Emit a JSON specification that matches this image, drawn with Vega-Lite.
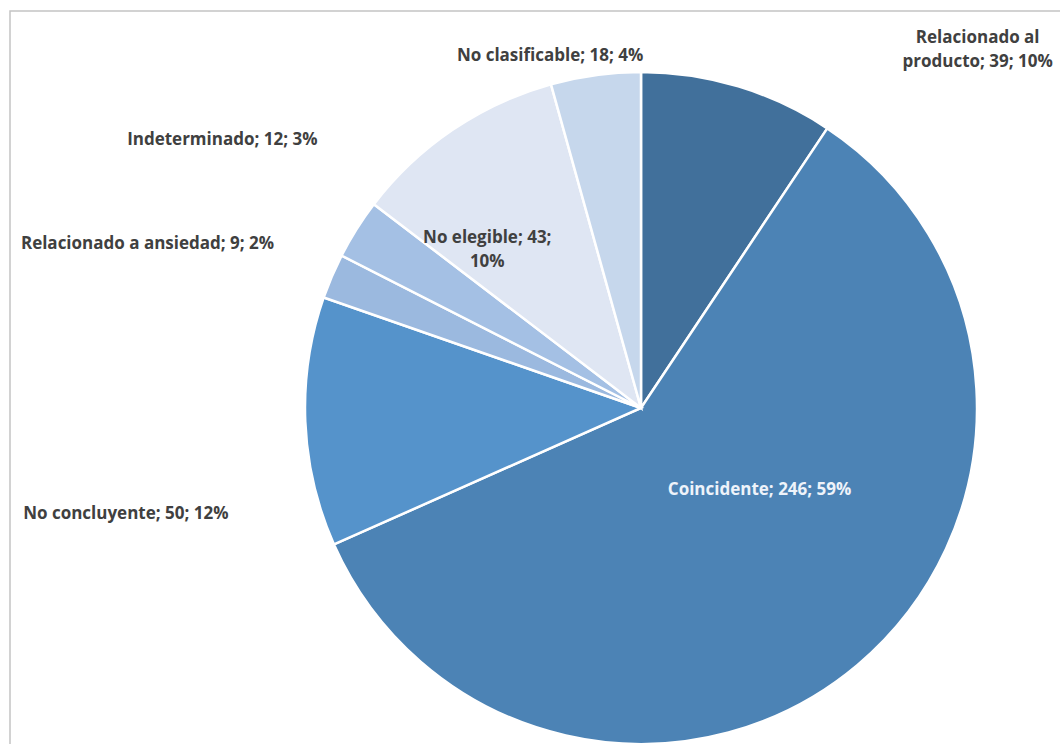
{
  "$schema": "https://vega.github.io/schema/vega-lite/v6.json",
  "description": "Pie chart of causality categories with labels.",
  "background": "white",
  "width": 1262,
  "height": 794,
  "autosize": {"type": "none"},
  "padding": {"left": 10, "top": 11, "right": -212, "bottom": -61},
  "config": {
    "view": {"stroke": "#c4c4c4", "strokeWidth": 1.5},
    "style": {"view": {"stroke": "#c4c4c4", "strokeWidth": 1.5}}
  },
  "data": {
    "values": [
      {"k": 1, "cat": "Relacionado al producto", "n": 39, "label": "Relacionado al\nproducto; 39; 10%"},
      {"k": 2, "cat": "Coincidente", "n": 246, "label": "Coincidente; 246; 59%"},
      {"k": 3, "cat": "No concluyente", "n": 50, "label": "No concluyente; 50; 12%"},
      {"k": 4, "cat": "Relacionado a ansiedad", "n": 9, "label": "Relacionado a ansiedad; 9; 2%"},
      {"k": 5, "cat": "Indeterminado", "n": 12, "label": "Indeterminado; 12; 3%"},
      {"k": 6, "cat": "No elegible", "n": 43, "label": "No elegible; 43;\n10%"},
      {"k": 7, "cat": "No clasificable", "n": 18, "label": "No clasificable; 18; 4%"}
    ]
  },
  "encoding": {
    "theta": {"field": "n", "type": "quantitative", "stack": true},
    "order": {"field": "k", "type": "quantitative"},
    "detail": {"field": "cat", "type": "nominal"}
  },
  "layer": [
    {
      "mark": {"type": "arc", "outerRadius": 336, "stroke": "white", "strokeWidth": 2.5},
      "encoding": {
        "color": {
          "field": "cat", "type": "nominal", "legend": null,
          "scale": {
            "domain": ["Relacionado al producto", "Coincidente", "No concluyente", "Relacionado a ansiedad", "Indeterminado", "No elegible", "No clasificable"],
            "range": ["#41709b", "#4c83b5", "#5593cb", "#9bb9df", "#a4c0e4", "#dfe6f3", "#c6d7ec"]
          }
        }
      }
    },
    {
      "mark": {"type": "text", "radius": 500, "thetaOffset": 0.4449, "font": "Open Sans", "fontWeight": "bold", "fontSize": 17, "fill": "#404040", "lineBreak": "\n", "lineHeight": 24},
      "encoding": {"text": {"condition": {"test": "datum.k === 1", "field": "label"}, "value": ""}}
    },
    {
      "mark": {"type": "text", "radius": 144, "thetaOffset": -0.2668, "font": "Open Sans", "fontWeight": "bold", "fontSize": 17, "fill": "#eef3fa"},
      "encoding": {"text": {"condition": {"test": "datum.k === 2", "field": "label"}, "value": ""}}
    },
    {
      "mark": {"type": "text", "radius": 526, "thetaOffset": -0.1616, "font": "Open Sans", "fontWeight": "bold", "fontSize": 17, "fill": "#404040"},
      "encoding": {"text": {"condition": {"test": "datum.k === 3", "field": "label"}, "value": ""}}
    },
    {
      "mark": {"type": "text", "radius": 520, "thetaOffset": -0.0824, "font": "Open Sans", "fontWeight": "bold", "fontSize": 17, "fill": "#404040"},
      "encoding": {"text": {"condition": {"test": "datum.k === 4", "field": "label"}, "value": ""}}
    },
    {
      "mark": {"type": "text", "radius": 497, "thetaOffset": 0.0077, "font": "Open Sans", "fontWeight": "bold", "fontSize": 17, "fill": "#404040"},
      "encoding": {"text": {"condition": {"test": "datum.k === 5", "field": "label"}, "value": ""}}
    },
    {
      "mark": {"type": "text", "radius": 229, "thetaOffset": -0.1408, "font": "Open Sans", "fontWeight": "bold", "fontSize": 17, "fill": "#404040", "lineBreak": "\n", "lineHeight": 24},
      "encoding": {"text": {"condition": {"test": "datum.k === 6", "field": "label"}, "value": ""}}
    },
    {
      "mark": {"type": "text", "radius": 364, "thetaOffset": -0.1168, "font": "Open Sans", "fontWeight": "bold", "fontSize": 17, "fill": "#404040"},
      "encoding": {"text": {"condition": {"test": "datum.k === 7", "field": "label"}, "value": ""}}
    }
  ]
}
